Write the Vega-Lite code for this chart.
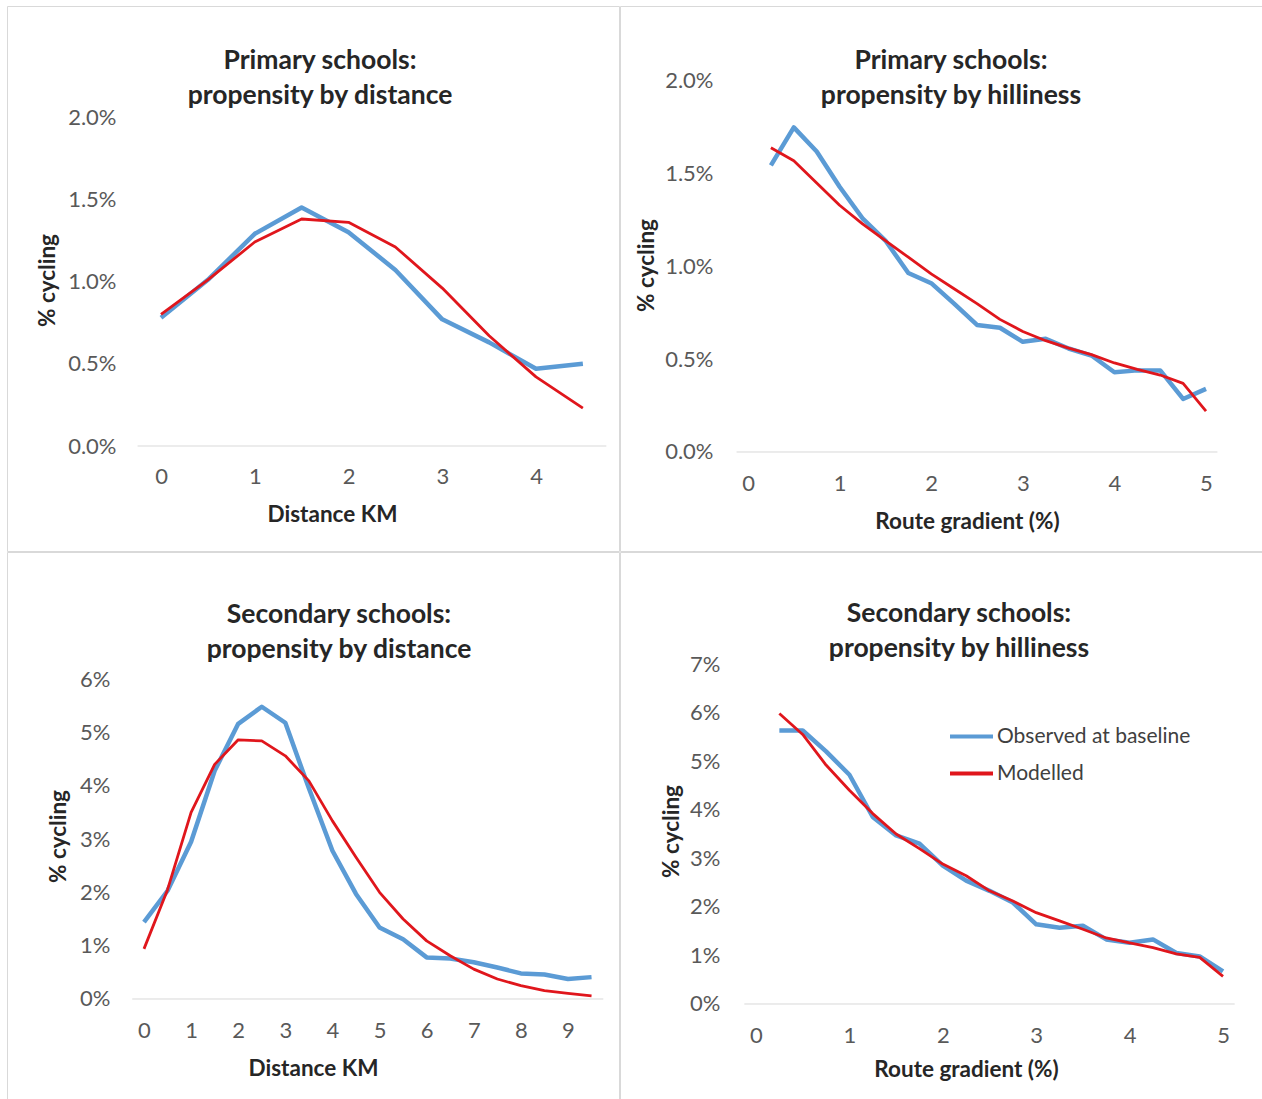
{
  "$schema": "https://vega.github.io/schema/vega-lite/v6.json",
  "padding": {"left": 6, "top": 5, "right": 0, "bottom": 0},
  "autosize": {"type": "pad"},
  "background": "white",
  "datasets": {
    "p1": [
      {"x": 0, "pct": 0.78, "series": "Observed at baseline"},
      {"x": 0.5, "pct": 1.01, "series": "Observed at baseline"},
      {"x": 1, "pct": 1.29, "series": "Observed at baseline"},
      {"x": 1.5, "pct": 1.45, "series": "Observed at baseline"},
      {"x": 2, "pct": 1.30, "series": "Observed at baseline"},
      {"x": 2.5, "pct": 1.07, "series": "Observed at baseline"},
      {"x": 3, "pct": 0.77, "series": "Observed at baseline"},
      {"x": 3.5, "pct": 0.63, "series": "Observed at baseline"},
      {"x": 4, "pct": 0.47, "series": "Observed at baseline"},
      {"x": 4.5, "pct": 0.50, "series": "Observed at baseline"},
      {"x": 0, "pct": 0.80, "series": "Modelled"},
      {"x": 0.5, "pct": 1.01, "series": "Modelled"},
      {"x": 1, "pct": 1.24, "series": "Modelled"},
      {"x": 1.5, "pct": 1.38, "series": "Modelled"},
      {"x": 2, "pct": 1.36, "series": "Modelled"},
      {"x": 2.5, "pct": 1.21, "series": "Modelled"},
      {"x": 3, "pct": 0.96, "series": "Modelled"},
      {"x": 3.5, "pct": 0.67, "series": "Modelled"},
      {"x": 4, "pct": 0.42, "series": "Modelled"},
      {"x": 4.5, "pct": 0.23, "series": "Modelled"}
    ],
    "p2": [
      {"x": 0.25, "pct": 1.545, "series": "Observed at baseline"},
      {"x": 0.5, "pct": 1.75, "series": "Observed at baseline"},
      {"x": 0.75, "pct": 1.62, "series": "Observed at baseline"},
      {"x": 1, "pct": 1.43, "series": "Observed at baseline"},
      {"x": 1.25, "pct": 1.26, "series": "Observed at baseline"},
      {"x": 1.5, "pct": 1.14, "series": "Observed at baseline"},
      {"x": 1.75, "pct": 0.965, "series": "Observed at baseline"},
      {"x": 2, "pct": 0.91, "series": "Observed at baseline"},
      {"x": 2.25, "pct": 0.80, "series": "Observed at baseline"},
      {"x": 2.5, "pct": 0.685, "series": "Observed at baseline"},
      {"x": 2.75, "pct": 0.67, "series": "Observed at baseline"},
      {"x": 3, "pct": 0.594, "series": "Observed at baseline"},
      {"x": 3.25, "pct": 0.61, "series": "Observed at baseline"},
      {"x": 3.5, "pct": 0.558, "series": "Observed at baseline"},
      {"x": 3.75, "pct": 0.52, "series": "Observed at baseline"},
      {"x": 4, "pct": 0.43, "series": "Observed at baseline"},
      {"x": 4.25, "pct": 0.44, "series": "Observed at baseline"},
      {"x": 4.5, "pct": 0.44, "series": "Observed at baseline"},
      {"x": 4.75, "pct": 0.286, "series": "Observed at baseline"},
      {"x": 5, "pct": 0.34, "series": "Observed at baseline"},
      {"x": 0.25, "pct": 1.64, "series": "Modelled"},
      {"x": 0.5, "pct": 1.57, "series": "Modelled"},
      {"x": 0.75, "pct": 1.45, "series": "Modelled"},
      {"x": 1, "pct": 1.33, "series": "Modelled"},
      {"x": 1.25, "pct": 1.23, "series": "Modelled"},
      {"x": 1.5, "pct": 1.14, "series": "Modelled"},
      {"x": 1.75, "pct": 1.05, "series": "Modelled"},
      {"x": 2, "pct": 0.96, "series": "Modelled"},
      {"x": 2.25, "pct": 0.88, "series": "Modelled"},
      {"x": 2.5, "pct": 0.80, "series": "Modelled"},
      {"x": 2.75, "pct": 0.715, "series": "Modelled"},
      {"x": 3, "pct": 0.65, "series": "Modelled"},
      {"x": 3.25, "pct": 0.60, "series": "Modelled"},
      {"x": 3.5, "pct": 0.56, "series": "Modelled"},
      {"x": 3.75, "pct": 0.525, "series": "Modelled"},
      {"x": 4, "pct": 0.48, "series": "Modelled"},
      {"x": 4.25, "pct": 0.445, "series": "Modelled"},
      {"x": 4.5, "pct": 0.415, "series": "Modelled"},
      {"x": 4.75, "pct": 0.37, "series": "Modelled"},
      {"x": 5, "pct": 0.22, "series": "Modelled"}
    ],
    "p3": [
      {"x": 0, "pct": 1.44, "series": "Observed at baseline"},
      {"x": 0.5, "pct": 2.03, "series": "Observed at baseline"},
      {"x": 1, "pct": 2.95, "series": "Observed at baseline"},
      {"x": 1.5, "pct": 4.28, "series": "Observed at baseline"},
      {"x": 2, "pct": 5.16, "series": "Observed at baseline"},
      {"x": 2.5, "pct": 5.48, "series": "Observed at baseline"},
      {"x": 3, "pct": 5.18, "series": "Observed at baseline"},
      {"x": 3.5, "pct": 3.95, "series": "Observed at baseline"},
      {"x": 4, "pct": 2.78, "series": "Observed at baseline"},
      {"x": 4.5, "pct": 1.97, "series": "Observed at baseline"},
      {"x": 5, "pct": 1.34, "series": "Observed at baseline"},
      {"x": 5.5, "pct": 1.12, "series": "Observed at baseline"},
      {"x": 6, "pct": 0.78, "series": "Observed at baseline"},
      {"x": 6.5, "pct": 0.76, "series": "Observed at baseline"},
      {"x": 7, "pct": 0.69, "series": "Observed at baseline"},
      {"x": 7.5, "pct": 0.59, "series": "Observed at baseline"},
      {"x": 8, "pct": 0.48, "series": "Observed at baseline"},
      {"x": 8.5, "pct": 0.46, "series": "Observed at baseline"},
      {"x": 9, "pct": 0.375, "series": "Observed at baseline"},
      {"x": 9.5, "pct": 0.41, "series": "Observed at baseline"},
      {"x": 0, "pct": 0.94, "series": "Modelled"},
      {"x": 0.5, "pct": 2.05, "series": "Modelled"},
      {"x": 1, "pct": 3.5, "series": "Modelled"},
      {"x": 1.5, "pct": 4.4, "series": "Modelled"},
      {"x": 2, "pct": 4.86, "series": "Modelled"},
      {"x": 2.5, "pct": 4.84, "series": "Modelled"},
      {"x": 3, "pct": 4.56, "series": "Modelled"},
      {"x": 3.5, "pct": 4.09, "series": "Modelled"},
      {"x": 4, "pct": 3.34, "series": "Modelled"},
      {"x": 4.5, "pct": 2.66, "series": "Modelled"},
      {"x": 5, "pct": 2.0, "series": "Modelled"},
      {"x": 5.5, "pct": 1.5, "series": "Modelled"},
      {"x": 6, "pct": 1.09, "series": "Modelled"},
      {"x": 6.5, "pct": 0.81, "series": "Modelled"},
      {"x": 7, "pct": 0.56, "series": "Modelled"},
      {"x": 7.5, "pct": 0.375, "series": "Modelled"},
      {"x": 8, "pct": 0.25, "series": "Modelled"},
      {"x": 8.5, "pct": 0.156, "series": "Modelled"},
      {"x": 9, "pct": 0.106, "series": "Modelled"},
      {"x": 9.5, "pct": 0.06, "series": "Modelled"}
    ],
    "p4": [
      {"x": 0.25, "pct": 5.63, "series": "Observed at baseline"},
      {"x": 0.5, "pct": 5.63, "series": "Observed at baseline"},
      {"x": 0.75, "pct": 5.2, "series": "Observed at baseline"},
      {"x": 1, "pct": 4.72, "series": "Observed at baseline"},
      {"x": 1.25, "pct": 3.85, "series": "Observed at baseline"},
      {"x": 1.5, "pct": 3.47, "series": "Observed at baseline"},
      {"x": 1.75, "pct": 3.3, "series": "Observed at baseline"},
      {"x": 2, "pct": 2.85, "series": "Observed at baseline"},
      {"x": 2.25, "pct": 2.54, "series": "Observed at baseline"},
      {"x": 2.5, "pct": 2.33, "series": "Observed at baseline"},
      {"x": 2.75, "pct": 2.09, "series": "Observed at baseline"},
      {"x": 3, "pct": 1.64, "series": "Observed at baseline"},
      {"x": 3.25, "pct": 1.57, "series": "Observed at baseline"},
      {"x": 3.5, "pct": 1.61, "series": "Observed at baseline"},
      {"x": 3.75, "pct": 1.33, "series": "Observed at baseline"},
      {"x": 4, "pct": 1.26, "series": "Observed at baseline"},
      {"x": 4.25, "pct": 1.33, "series": "Observed at baseline"},
      {"x": 4.5, "pct": 1.05, "series": "Observed at baseline"},
      {"x": 4.75, "pct": 0.98, "series": "Observed at baseline"},
      {"x": 5, "pct": 0.67, "series": "Observed at baseline"},
      {"x": 0.25, "pct": 5.98, "series": "Modelled"},
      {"x": 0.5, "pct": 5.55, "series": "Modelled"},
      {"x": 0.75, "pct": 4.92, "series": "Modelled"},
      {"x": 1, "pct": 4.4, "series": "Modelled"},
      {"x": 1.25, "pct": 3.92, "series": "Modelled"},
      {"x": 1.5, "pct": 3.5, "series": "Modelled"},
      {"x": 1.75, "pct": 3.2, "series": "Modelled"},
      {"x": 2, "pct": 2.88, "series": "Modelled"},
      {"x": 2.25, "pct": 2.64, "series": "Modelled"},
      {"x": 2.5, "pct": 2.33, "series": "Modelled"},
      {"x": 2.75, "pct": 2.12, "series": "Modelled"},
      {"x": 3, "pct": 1.88, "series": "Modelled"},
      {"x": 3.25, "pct": 1.71, "series": "Modelled"},
      {"x": 3.5, "pct": 1.54, "series": "Modelled"},
      {"x": 3.75, "pct": 1.36, "series": "Modelled"},
      {"x": 4, "pct": 1.26, "series": "Modelled"},
      {"x": 4.25, "pct": 1.16, "series": "Modelled"},
      {"x": 4.5, "pct": 1.03, "series": "Modelled"},
      {"x": 4.75, "pct": 0.96, "series": "Modelled"},
      {"x": 5, "pct": 0.57, "series": "Modelled"}
    ]
  },
  "spacing": -2,
  "resolve": {"scale": {"color": "independent"}, "legend": {"color": "independent"}},
  "vconcat": [
    {
      "spacing": -2,
      "resolve": {"scale": {"color": "independent"}, "legend": {"color": "independent"}},
      "hconcat": [
        {
          "width": 612, "height": 545,
          "title": {"text": ["Primary schools:", "propensity by distance"], "dx": 7, "offset": -103},
          "layer": [
            {
              "data": {"values": [{"x": -0.25, "xe": 4.75, "pct": 0}]},
              "mark": {"type": "rule", "color": "#d9d9d9", "strokeWidth": 1},
              "encoding": {
                "x": {"field": "x", "type": "quantitative", "scale": {"domain": [-1.6427, 4.8853], "nice": false, "zero": false},
                  "axis": {"values": [0, 1, 2, 3, 4], "format": "d", "orient": "bottom", "offset": -105, "domain": false, "ticks": false, "tickSize": 0, "grid": false, "labelPadding": 20, "title": "Distance KM", "titleX": 325, "titleY": 68, "titleAlign": "center", "titleBaseline": "middle"}},
                "x2": {"field": "xe"},
                "y": {"field": "pct", "type": "quantitative", "scale": {"domain": [-0.6383, 2.6748], "nice": false, "zero": false},
                  "axis": {"values": [0, 0.5, 1, 1.5, 2], "orient": "left", "offset": -109, "domain": false, "ticks": false, "tickSize": 0, "grid": false, "labelPadding": 0, "labelExpr": "format(datum.value, '.1f') + '%'", "title": "% cycling", "titleX": -69, "titleY": 274, "titleAngle": -90, "titleAlign": "center", "titleBaseline": "middle"}}
              }
            },
            {
              "data": {"name": "p1"},
              "transform": [{"filter": "datum.series === 'Observed at baseline'"}],
              "mark": {"type": "line", "strokeWidth": 4.5, "strokeJoin": "round"},
              "encoding": {
                "x": {"field": "x", "type": "quantitative"},
                "y": {"field": "pct", "type": "quantitative"},
                "color": {"field": "series", "type": "nominal", "scale": {"domain": ["Observed at baseline", "Modelled"], "range": ["#5b9bd5", "#e0161c"]}, "legend": null}
              }
            },
            {
              "data": {"name": "p1"},
              "transform": [{"filter": "datum.series === 'Modelled'"}],
              "mark": {"type": "line", "strokeWidth": 2.8, "strokeJoin": "round"},
              "encoding": {
                "x": {"field": "x", "type": "quantitative"},
                "y": {"field": "pct", "type": "quantitative"},
                "color": {"field": "series", "type": "nominal", "scale": {"domain": ["Observed at baseline", "Modelled"], "range": ["#5b9bd5", "#e0161c"]}, "legend": null}
              }
            }
          ]
        },
        {
          "width": 643, "height": 545,
          "title": {"text": ["Primary schools:", "propensity by hilliness"], "dx": 9.5, "offset": -103},
          "layer": [
            {
              "data": {"values": [{"x": -0.125, "xe": 5.125, "pct": 0}]},
              "mark": {"type": "rule", "color": "#d9d9d9", "strokeWidth": 1},
              "encoding": {
                "x": {"field": "x", "type": "quantitative", "scale": {"domain": [-1.3974, 5.6223], "nice": false, "zero": false},
                  "axis": {"values": [0, 1, 2, 3, 4, 5], "format": "d", "orient": "bottom", "offset": -99, "domain": false, "ticks": false, "tickSize": 0, "grid": false, "labelPadding": 21, "title": "Route gradient (%)", "titleX": 347, "titleY": 69, "titleAlign": "center", "titleBaseline": "middle"}},
                "x2": {"field": "xe"},
                "y": {"field": "pct", "type": "quantitative", "scale": {"domain": [-0.5337, 2.4043], "nice": false, "zero": false},
                  "axis": {"values": [0, 0.5, 1, 1.5, 2], "orient": "left", "offset": -93, "domain": false, "ticks": false, "tickSize": 0, "grid": false, "labelPadding": 0, "labelExpr": "format(datum.value, '.1f') + '%'", "title": "% cycling", "titleX": -67, "titleY": 259, "titleAngle": -90, "titleAlign": "center", "titleBaseline": "middle"}}
              }
            },
            {
              "data": {"name": "p2"},
              "transform": [{"filter": "datum.series === 'Observed at baseline'"}],
              "mark": {"type": "line", "strokeWidth": 4.5, "strokeJoin": "round"},
              "encoding": {
                "x": {"field": "x", "type": "quantitative"},
                "y": {"field": "pct", "type": "quantitative"},
                "color": {"field": "series", "type": "nominal", "scale": {"domain": ["Observed at baseline", "Modelled"], "range": ["#5b9bd5", "#e0161c"]}, "legend": null}
              }
            },
            {
              "data": {"name": "p2"},
              "transform": [{"filter": "datum.series === 'Modelled'"}],
              "mark": {"type": "line", "strokeWidth": 2.8, "strokeJoin": "round"},
              "encoding": {
                "x": {"field": "x", "type": "quantitative"},
                "y": {"field": "pct", "type": "quantitative"},
                "color": {"field": "series", "type": "nominal", "scale": {"domain": ["Observed at baseline", "Modelled"], "range": ["#5b9bd5", "#e0161c"]}, "legend": null}
              }
            }
          ]
        }
      ]
    },
    {
      "spacing": -2,
      "resolve": {"scale": {"color": "independent"}, "legend": {"color": "independent"}},
      "hconcat": [
        {
          "width": 612, "height": 548,
          "title": {"text": ["Secondary schools:", "propensity by distance"], "dx": 26, "offset": -111},
          "layer": [
            {
              "data": {"values": [{"x": -0.25, "xe": 9.75, "pct": 0}]},
              "mark": {"type": "rule", "color": "#d9d9d9", "strokeWidth": 1},
              "encoding": {
                "x": {"field": "x", "type": "quantitative", "scale": {"domain": [-2.908, 10.083], "nice": false, "zero": false},
                  "axis": {"values": [0, 1, 2, 3, 4, 5, 6, 7, 8, 9], "format": "d", "orient": "bottom", "offset": -101, "domain": false, "ticks": false, "tickSize": 0, "grid": false, "labelPadding": 21, "title": "Distance KM", "titleX": 306, "titleY": 69, "titleAlign": "center", "titleBaseline": "middle"}},
                "x2": {"field": "xe"},
                "y": {"field": "pct", "type": "quantitative", "scale": {"domain": [-1.894, 8.382], "nice": false, "zero": false},
                  "axis": {"values": [0, 1, 2, 3, 4, 5, 6], "orient": "left", "offset": -103, "domain": false, "ticks": false, "tickSize": 0, "grid": false, "labelPadding": 0, "labelExpr": "format(datum.value, 'd') + '%'", "title": "% cycling", "titleX": -52, "titleY": 284, "titleAngle": -90, "titleAlign": "center", "titleBaseline": "middle"}}
              }
            },
            {
              "data": {"name": "p3"},
              "transform": [{"filter": "datum.series === 'Observed at baseline'"}],
              "mark": {"type": "line", "strokeWidth": 4.5, "strokeJoin": "round"},
              "encoding": {
                "x": {"field": "x", "type": "quantitative"},
                "y": {"field": "pct", "type": "quantitative"},
                "color": {"field": "series", "type": "nominal", "scale": {"domain": ["Observed at baseline", "Modelled"], "range": ["#5b9bd5", "#e0161c"]}, "legend": null}
              }
            },
            {
              "data": {"name": "p3"},
              "transform": [{"filter": "datum.series === 'Modelled'"}],
              "mark": {"type": "line", "strokeWidth": 2.8, "strokeJoin": "round"},
              "encoding": {
                "x": {"field": "x", "type": "quantitative"},
                "y": {"field": "pct", "type": "quantitative"},
                "color": {"field": "series", "type": "nominal", "scale": {"domain": ["Observed at baseline", "Modelled"], "range": ["#5b9bd5", "#e0161c"]}, "legend": null}
              }
            }
          ]
        },
        {
          "width": 643, "height": 548,
          "title": {"text": ["Secondary schools:", "propensity by hilliness"], "dx": 17.5, "offset": -110.5},
          "layer": [
            {
              "data": {"values": [{"x": -0.125, "xe": 5.125, "pct": 0}]},
              "mark": {"type": "rule", "color": "#d9d9d9", "strokeWidth": 1},
              "encoding": {
                "x": {"field": "x", "type": "quantitative", "scale": {"domain": [-1.456, 5.428], "nice": false, "zero": false},
                  "axis": {"values": [0, 1, 2, 3, 4, 5], "format": "d", "orient": "bottom", "offset": -96, "domain": false, "ticks": false, "tickSize": 0, "grid": false, "labelPadding": 21, "title": "Route gradient (%)", "titleX": 346, "titleY": 65, "titleAlign": "center", "titleBaseline": "middle"}},
                "x2": {"field": "xe"},
                "y": {"field": "pct", "type": "quantitative", "scale": {"domain": [-1.9765, 9.306], "nice": false, "zero": false},
                  "axis": {"values": [0, 1, 2, 3, 4, 5, 6, 7], "orient": "left", "offset": -100, "domain": false, "ticks": false, "tickSize": 0, "grid": false, "labelPadding": 0, "labelExpr": "format(datum.value, 'd') + '%'", "title": "% cycling", "titleX": -49, "titleY": 279, "titleAngle": -90, "titleAlign": "center", "titleBaseline": "middle"}}
              }
            },
            {
              "data": {"name": "p4"},
              "transform": [{"filter": "datum.series === 'Observed at baseline'"}],
              "mark": {"type": "line", "strokeWidth": 4.5, "strokeJoin": "round"},
              "encoding": {
                "x": {"field": "x", "type": "quantitative"},
                "y": {"field": "pct", "type": "quantitative"},
                "color": {"field": "series", "type": "nominal", "scale": {"domain": ["Observed at baseline", "Modelled"], "range": ["#5b9bd5", "#e0161c"]},
                  "legend": {"orient": "none", "legendX": 328, "legendY": 161, "title": null, "symbolType": "stroke", "symbolSize": 1849, "symbolStrokeWidth": 4, "labelFontSize": 21, "labelFont": "Lato", "labelColor": "#404040", "labelLimit": 0, "padding": 0, "labelOffset": 2, "rowPadding": 3}}
              }
            },
            {
              "data": {"name": "p4"},
              "transform": [{"filter": "datum.series === 'Modelled'"}],
              "mark": {"type": "line", "strokeWidth": 2.8, "strokeJoin": "round"},
              "encoding": {
                "x": {"field": "x", "type": "quantitative"},
                "y": {"field": "pct", "type": "quantitative"},
                "color": {"field": "series", "type": "nominal", "scale": {"domain": ["Observed at baseline", "Modelled"], "range": ["#5b9bd5", "#e0161c"]},
                  "legend": {"orient": "none", "legendX": 328, "legendY": 161, "title": null, "symbolType": "stroke", "symbolSize": 1849, "symbolStrokeWidth": 4, "labelFontSize": 21, "labelFont": "Lato", "labelColor": "#404040", "labelLimit": 0, "padding": 0, "labelOffset": 2, "rowPadding": 3}}
              }
            }
          ]
        }
      ]
    }
  ],
  "config": {
    "view": {"stroke": "#d9d9d9", "strokeWidth": 1},
    "concat": {"spacing": 0},
    "axis": {"labelFont": "Lato", "labelFontSize": 22, "labelColor": "#595959", "titleFont": "Lato", "titleFontSize": 22.5, "titleFontWeight": "bold", "titleColor": "#262626"},
    "title": {"font": "Lato", "fontSize": 26.5, "fontWeight": "bold", "color": "#262626", "lineHeight": 35, "anchor": "middle", "frame": "group"}
  }
}
